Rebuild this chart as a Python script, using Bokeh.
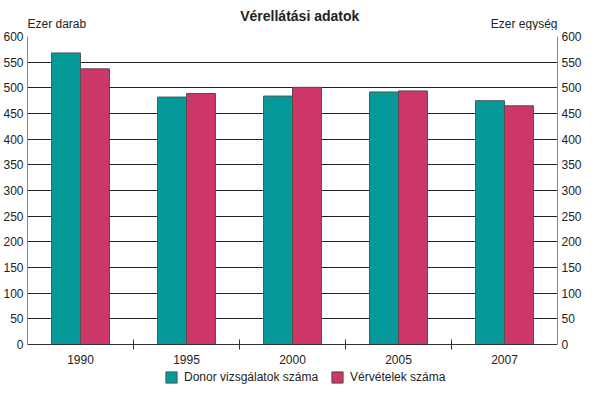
from bokeh.plotting import figure
from bokeh.layouts import column
from bokeh.models import (ColumnDataSource, FixedTicker, LinearAxis, Label,
                          Legend, LegendItem, Range1d)
from bokeh.transform import dodge
from bokeh.embed import file_html
from bokeh.resources import INLINE

years = ["1990", "1995", "2000", "2005", "2007"]
donor = [568, 482, 484, 492, 475]
vervetel = [537, 489, 501, 494, 465]
y_ticks = list(range(0, 601, 50))
title = "Vérellátási adatok"
unit_left = "Ezer darab"
unit_right = "Ezer egység"
series_names = ["Donor vizsgálatok száma", "Vérvételek száma"]

FONT = "'Liberation Sans', Arial, sans-serif"
TEAL = "#06999a"
PINK = "#cc3768"
TXT = "#222222"
W = 584
TOP_H = 30
MAIN_H = 336
LEG_H = 18


def bare(fig):
    fig.outline_line_color = None
    fig.xaxis.visible = False
    fig.yaxis.visible = False
    fig.xgrid.visible = False
    fig.ygrid.visible = False
    fig.min_border = 0


# ---- header: title and unit labels
top = figure(width=W, height=TOP_H, output_backend="svg", toolbar_location=None,
             x_range=Range1d(0, W), y_range=Range1d(0, TOP_H))
bare(top)
top.add_layout(Label(x=W / 2 + 8, y=15, text=title, text_font=FONT,
                     text_font_size="14px", text_font_style="bold",
                     text_color=TXT, text_align="center", text_baseline="alphabetic"))
top.add_layout(Label(x=0, y=7, text=unit_left, text_font=FONT,
                     text_font_size="12px", text_color=TXT,
                     text_align="left", text_baseline="alphabetic"))
top.add_layout(Label(x=W, y=7, text=unit_right, text_font=FONT,
                     text_font_size="12px", text_color=TXT,
                     text_align="right", text_baseline="alphabetic"))

# ---- main chart
pos = list(range(1, len(years) + 1))
src = ColumnDataSource(dict(x=pos, donor=donor, verv=vervetel))

p = figure(width=W, height=MAIN_H, output_backend="svg", toolbar_location=None,
           x_range=Range1d(0.5, len(years) + 0.5), y_range=Range1d(0, 600),
           min_border_left=25, min_border_right=25, min_border_top=6,
           min_border_bottom=19)
p.outline_line_color = None

bw = 0.273
p.vbar(x=dodge("x", -bw / 2, range=p.x_range), top="donor", width=bw,
       source=src, fill_color=TEAL, line_color="#4a5a5a", line_width=1)
p.vbar(x=dodge("x", bw / 2, range=p.x_range), top="verv", width=bw,
       source=src, fill_color=PINK, line_color="#5a4a4a", line_width=1)

p.xaxis.ticker = FixedTicker(ticks=pos, minor_ticks=[i + 0.5 for i in pos[:-1]])
p.xaxis.major_label_overrides = {i: y for i, y in zip(pos, years)}
p.xaxis.major_tick_line_color = None
p.xaxis.major_tick_out = 0
p.xaxis.major_tick_in = 0
p.xaxis.minor_tick_line_color = "#333333"
p.xaxis.minor_tick_in = 5
p.xaxis.minor_tick_out = 5
p.xaxis.axis_line_color = "#333333"
p.xaxis.major_label_standoff = 5
p.xaxis.major_label_text_font = FONT
p.xaxis.major_label_text_font_size = "12px"
p.xaxis.major_label_text_color = TXT


def style_y(ax):
    ax.ticker = FixedTicker(ticks=y_ticks)
    ax.major_tick_line_color = None
    ax.major_tick_out = 0
    ax.major_tick_in = 0
    ax.minor_tick_line_color = None
    ax.axis_line_color = "#888888"
    ax.major_label_standoff = 4
    ax.major_label_text_font = FONT
    ax.major_label_text_font_size = "12px"
    ax.major_label_text_color = TXT


style_y(p.yaxis[0])
ry = LinearAxis()
style_y(ry)
p.add_layout(ry, "right")

p.xgrid.grid_line_color = None
p.ygrid.ticker = FixedTicker(ticks=y_ticks)
p.ygrid.grid_line_color = "#222222"
p.ygrid.grid_line_width = 1

# ---- legend strip
leg = figure(width=W, height=LEG_H, output_backend="svg", toolbar_location=None,
             x_range=Range1d(0, 1), y_range=Range1d(0, 1))
bare(leg)
nothing = ColumnDataSource(dict(x=[float("nan")], top=[float("nan")]))
g1 = leg.vbar(x="x", top="top", width=0.1, source=nothing, fill_color=TEAL,
              line_color="#4a5a5a")
g2 = leg.vbar(x="x", top="top", width=0.1, source=nothing, fill_color=PINK,
              line_color="#5a4a4a")
legend = Legend(items=[LegendItem(label=series_names[0], renderers=[g1]),
                       LegendItem(label=series_names[1], renderers=[g2])],
                orientation="horizontal", location=(137, 0))
legend.label_text_font = FONT
legend.label_text_font_size = "12px"
legend.label_text_color = TXT
legend.glyph_width = 14
legend.glyph_height = 14
legend.label_standoff = 6
legend.spacing = 12
legend.padding = 2
legend.margin = 0
legend.border_line_color = None
legend.background_fill_alpha = 0
legend.label_height = 14
leg.add_layout(legend, "center")

layout = column(top, p, leg, spacing=0)
open("out.html", "w").write(file_html(layout, INLINE))
